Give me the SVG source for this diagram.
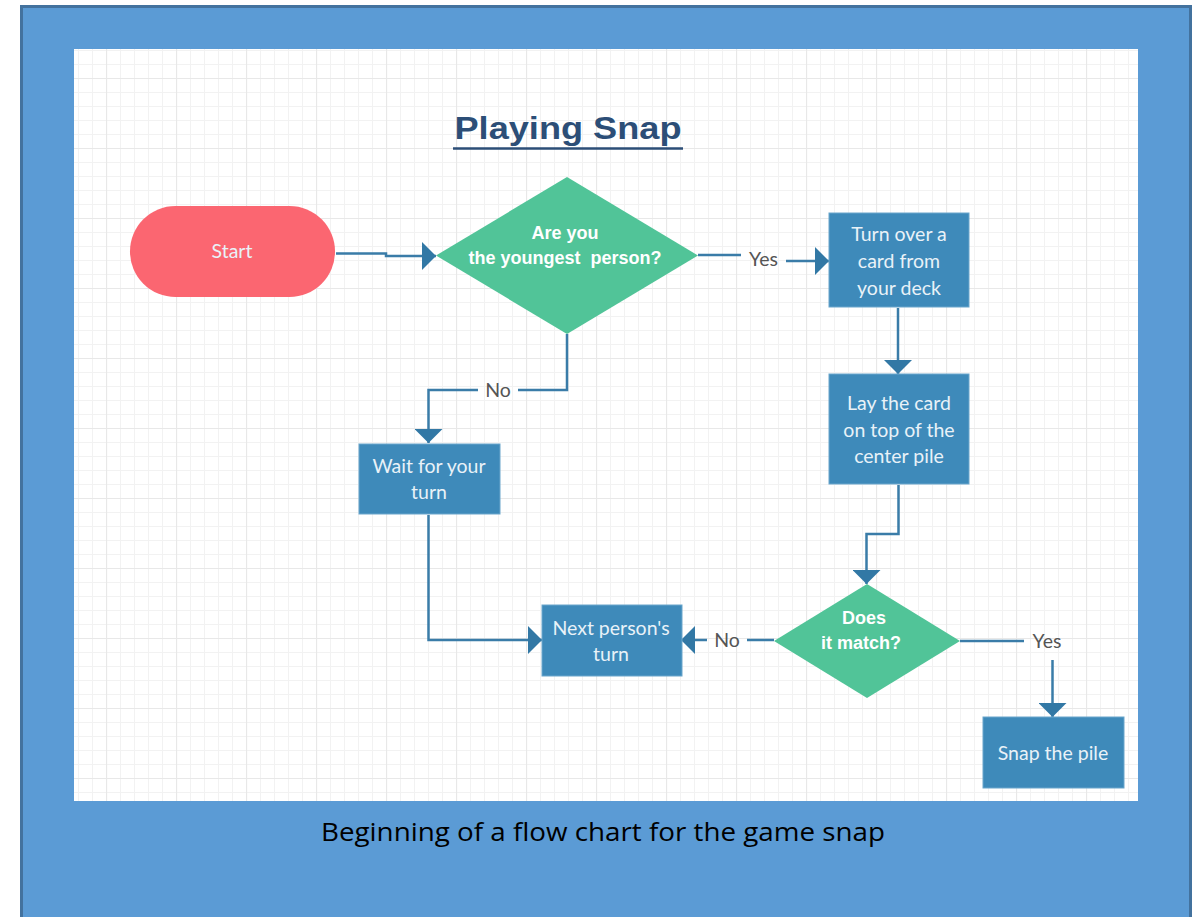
<svg xmlns="http://www.w3.org/2000/svg" width="1204" height="917" viewBox="0 0 1204 917">
<defs>
<pattern id="grid" patternUnits="userSpaceOnUse" x="106" y="78" width="70" height="70">
<rect width="70" height="70" fill="#ffffff"/>
<path d="M14.5,0V70M28.5,0V70M42.5,0V70M56.5,0V70M0,14.5H70M0,28.5H70M0,42.5H70M0,56.5H70" stroke="#f2f2f2" stroke-width="1" fill="none"/>
<path d="M0.5,0V70M0,0.5H70" stroke="#e8e8e8" stroke-width="1.2" fill="none"/>
</pattern>
<marker id="ah" viewBox="0 0 14 28" refX="14" refY="14" markerWidth="14" markerHeight="28" markerUnits="userSpaceOnUse" orient="auto">
<path d="M0,0L14,14L0,28Z" fill="#3278a5"/>
</marker>
</defs>
<style>
.conn{fill:none;stroke:#3a7ca8;stroke-width:2.5}
.box{fill:#3e8aba;stroke:#6aa6cc;stroke-width:1}
.bt{font-family:Lato,"Open Sans",sans-serif;font-size:19.5px;fill:#e9f2f8;text-anchor:middle}
.dt{font-family:"Liberation Sans",Arial,sans-serif;font-weight:bold;font-size:18px;fill:#ffffff;text-anchor:middle}
.lbl{font-family:Lato,"Open Sans",sans-serif;font-size:19.5px;fill:#555555;text-anchor:middle}
.dia{fill:#51c498}
</style>
<rect x="21.5" y="6.5" width="1169" height="940" fill="#5b9bd5" stroke="#43729e" stroke-width="3"/>
<rect x="74" y="49" width="1064" height="752" fill="url(#grid)"/>
<g id="title">
<text x="568" y="139" font-family="'Liberation Sans',Arial,sans-serif" font-weight="bold" font-size="32" fill="#2c4e77" text-anchor="middle" textLength="227" lengthAdjust="spacingAndGlyphs">Playing Snap</text>
<line x1="453" y1="148.5" x2="683" y2="148.5" stroke="#2c4e77" stroke-width="2.5"/>
</g>
<g id="connectors">
<path class="conn" d="M336,253.5H386V256H436" marker-end="url(#ah)"/>
<path class="conn" d="M698,255H741"/>
<path class="conn" d="M786,261H829" marker-end="url(#ah)"/>
<path class="conn" d="M898,308V374" marker-end="url(#ah)"/>
<path class="conn" d="M898.5,485V534H866.5V584" marker-end="url(#ah)"/>
<path class="conn" d="M567,334V390H518"/>
<path class="conn" d="M478,390H428.5V443" marker-end="url(#ah)"/>
<path class="conn" d="M428.5,515V640H542" marker-end="url(#ah)"/>
<path class="conn" d="M774,640H747"/>
<path class="conn" d="M707,640H681" marker-end="url(#ah)"/>
<path class="conn" d="M960,641H1024"/>
<path class="conn" d="M1052.5,660V717" marker-end="url(#ah)"/>
<text class="lbl" x="763.5" y="266">Yes</text>
<text class="lbl" x="498" y="397">No</text>
<text class="lbl" x="727" y="647">No</text>
<text class="lbl" x="1047" y="648">Yes</text>
</g>
<g id="start">
<rect x="130" y="206" width="205" height="91" rx="45.5" fill="#fb6671"/>
<text class="bt" x="232" y="258" fill="#fde6e8">Start</text>
</g>
<g id="q-youngest">
<polygon class="dia" points="567,177 698,255.5 567,334 436,255.5"/>
<text class="dt" x="565" y="239">Are you</text>
<text class="dt" x="565" y="264" xml:space="preserve">the youngest  person?</text>
</g>
<g id="turn-over">
<rect class="box" x="829" y="213" width="140" height="94"/>
<text class="bt" x="899" y="241">Turn over a</text>
<text class="bt" x="899" y="268">card from</text>
<text class="bt" x="899" y="295">your deck</text>
</g>
<g id="lay-card">
<rect class="box" x="829" y="374" width="140" height="110"/>
<text class="bt" x="899" y="410">Lay the card</text>
<text class="bt" x="899" y="437">on top of the</text>
<text class="bt" x="899" y="463">center pile</text>
</g>
<g id="wait">
<rect class="box" x="359" y="444" width="141" height="70"/>
<text class="bt" x="429" y="473">Wait for your</text>
<text class="bt" x="429" y="499">turn</text>
</g>
<g id="next-person">
<rect class="box" x="542" y="605" width="140" height="71"/>
<text class="bt" x="611" y="635">Next person's</text>
<text class="bt" x="611" y="661">turn</text>
</g>
<g id="q-match">
<polygon class="dia" points="867,584 960,641 867,698 774,641"/>
<text class="dt" x="864" y="624">Does</text>
<text class="dt" x="861" y="649">it match?</text>
</g>
<g id="snap">
<rect class="box" x="983" y="717" width="141" height="71"/>
<text class="bt" x="1053" y="760">Snap the pile</text>
</g>
<text x="603" y="841" font-family="'Open Sans','Liberation Sans',sans-serif" font-size="26" fill="#000000" text-anchor="middle" textLength="564" lengthAdjust="spacingAndGlyphs">Beginning of a flow chart for the game snap</text>
</svg>
